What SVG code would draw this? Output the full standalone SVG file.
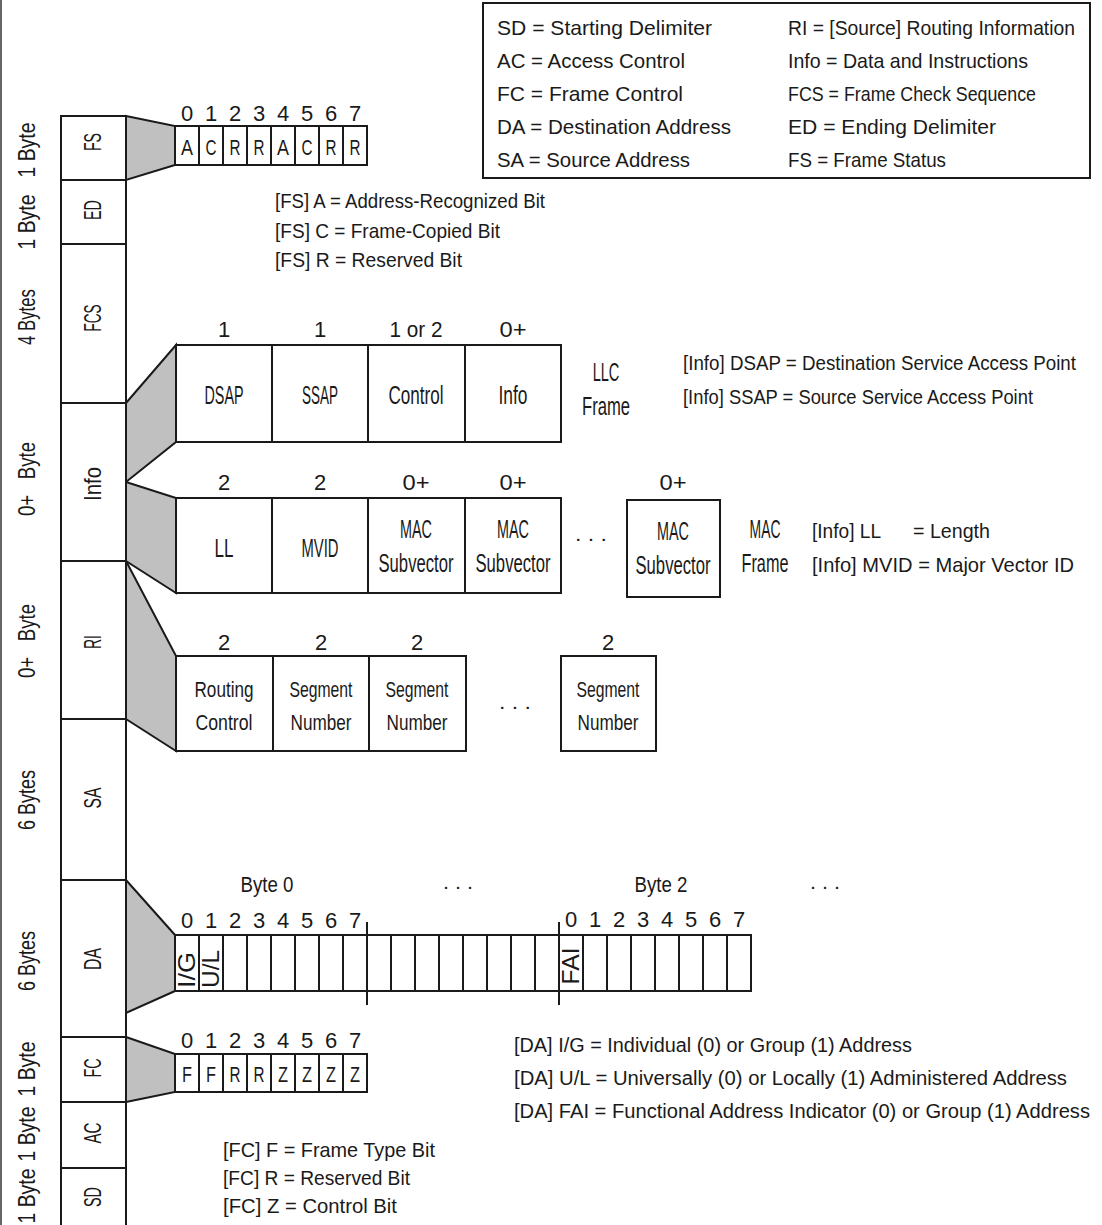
<svg xmlns="http://www.w3.org/2000/svg" width="1102" height="1225" viewBox="0 0 1102 1225">
<style>
text{font-family:"Liberation Sans",Arial,sans-serif;fill:#1a1a1a;font-size:21px}
.m{text-anchor:middle}
.n{font-size:20px}
.d{font-size:22px;text-anchor:middle}
.b{font-size:26px;text-anchor:middle}
.r{font-size:22px;text-anchor:middle}
.c{font-size:24px;text-anchor:middle}
.s{font-size:23px;text-anchor:middle}
.ln{fill:none;stroke:#1a1a1a;stroke-width:2}
.box{fill:#fff;stroke:#1a1a1a;stroke-width:2}
.tr{fill:#c0c0c0;stroke:#1a1a1a;stroke-width:2;stroke-linejoin:miter}
</style>
<rect width="1102" height="1225" fill="#fff"/>
<line x1="1" y1="0" x2="1" y2="1225" stroke="#666" stroke-width="2"/>

<g id="connectors">
<polygon class="tr" points="126,116 175,126 175,165 126,180"/>
<polygon class="tr" points="126,403 176,345 176,442 126,482"/>
<polygon class="tr" points="126,482 176,498 176,593 126,561"/>
<polygon class="tr" points="126,561 176,656 176,751 126,719"/>
<polygon class="tr" points="126,880 175,935 175,991 126,1013"/>
<polygon class="tr" points="126,1037 175,1054 175,1092 126,1102"/>
</g>

<g id="frame-column">
<rect class="box" x="61" y="116" width="65" height="1120"/>
<path class="ln" d="M61 180H126M61 244H126M61 403H126M61 561H126M61 719H126M61 880H126M61 1037H126M61 1102H126M61 1168H126"/>
<text class="c" transform="translate(101,142) rotate(-90)" textLength="18" lengthAdjust="spacingAndGlyphs">FS</text>
<text class="c" transform="translate(101,210) rotate(-90)" textLength="20" lengthAdjust="spacingAndGlyphs">ED</text>
<text class="c" transform="translate(101,318) rotate(-90)" textLength="27" lengthAdjust="spacingAndGlyphs">FCS</text>
<text class="c" transform="translate(101,484) rotate(-90)" textLength="34" lengthAdjust="spacingAndGlyphs">Info</text>
<text class="c" transform="translate(101,642) rotate(-90)" textLength="14" lengthAdjust="spacingAndGlyphs">RI</text>
<text class="c" transform="translate(101,798) rotate(-90)" textLength="21" lengthAdjust="spacingAndGlyphs">SA</text>
<text class="c" transform="translate(101,959) rotate(-90)" textLength="22" lengthAdjust="spacingAndGlyphs">DA</text>
<text class="c" transform="translate(101,1068) rotate(-90)" textLength="19" lengthAdjust="spacingAndGlyphs">FC</text>
<text class="c" transform="translate(101,1133) rotate(-90)" textLength="21" lengthAdjust="spacingAndGlyphs">AC</text>
<text class="c" transform="translate(101,1197) rotate(-90)" textLength="20" lengthAdjust="spacingAndGlyphs">SD</text>
</g>

<g id="size-labels">
<text class="s" transform="translate(35,150) rotate(-90)" textLength="55" lengthAdjust="spacingAndGlyphs">1 Byte</text>
<text class="s" transform="translate(35,222) rotate(-90)" textLength="55" lengthAdjust="spacingAndGlyphs">1 Byte</text>
<text class="s" transform="translate(35,317) rotate(-90)" textLength="56" lengthAdjust="spacingAndGlyphs">4 Bytes</text>
<text class="s" transform="translate(35,479) rotate(-90)" textLength="74" lengthAdjust="spacingAndGlyphs" xml:space="preserve">0+   Byte</text>
<text class="s" transform="translate(35,641) rotate(-90)" textLength="74" lengthAdjust="spacingAndGlyphs" xml:space="preserve">0+   Byte</text>
<text class="s" transform="translate(35,800) rotate(-90)" textLength="60" lengthAdjust="spacingAndGlyphs">6 Bytes</text>
<text class="s" transform="translate(35,961) rotate(-90)" textLength="60" lengthAdjust="spacingAndGlyphs">6 Bytes</text>
<text class="s" transform="translate(35,1069) rotate(-90)" textLength="55" lengthAdjust="spacingAndGlyphs">1 Byte</text>
<text class="s" transform="translate(35,1134) rotate(-90)" textLength="55" lengthAdjust="spacingAndGlyphs">1 Byte</text>
<text class="s" transform="translate(35,1196) rotate(-90)" textLength="55" lengthAdjust="spacingAndGlyphs">1 Byte</text>
</g>

<g id="legend">
<rect x="483" y="3" width="607" height="175" fill="#fff" stroke="#1a1a1a" stroke-width="2"/>
<text x="497" y="35" textLength="215" lengthAdjust="spacingAndGlyphs">SD = Starting Delimiter</text>
<text x="497" y="68" textLength="188" lengthAdjust="spacingAndGlyphs">AC = Access Control</text>
<text x="497" y="101" textLength="186" lengthAdjust="spacingAndGlyphs">FC = Frame Control</text>
<text x="497" y="134" textLength="234" lengthAdjust="spacingAndGlyphs">DA = Destination Address</text>
<text x="497" y="167" textLength="193" lengthAdjust="spacingAndGlyphs">SA = Source Address</text>
<text x="788" y="35" textLength="287" lengthAdjust="spacingAndGlyphs">RI = [Source] Routing Information</text>
<text x="788" y="68" textLength="240" lengthAdjust="spacingAndGlyphs">Info = Data and Instructions</text>
<text x="788" y="101" textLength="248" lengthAdjust="spacingAndGlyphs">FCS = Frame Check Sequence</text>
<text x="788" y="134" textLength="208" lengthAdjust="spacingAndGlyphs">ED = Ending Delimiter</text>
<text x="788" y="167" textLength="158" lengthAdjust="spacingAndGlyphs">FS = Frame Status</text>
</g>

<g id="fs-bits">
<rect class="box" x="175" y="126" width="192" height="39"/>
<path class="ln" d="M199 126V165M223 126V165M247 126V165M271 126V165M295 126V165M319 126V165M343 126V165"/>
<text class="d" x="187" y="121">0</text><text class="d" x="211" y="121">1</text><text class="d" x="235" y="121">2</text><text class="d" x="259" y="121">3</text><text class="d" x="283" y="121">4</text><text class="d" x="307" y="121">5</text><text class="d" x="331" y="121">6</text><text class="d" x="355" y="121">7</text>
<text class="d" x="187" y="155" textLength="12" lengthAdjust="spacingAndGlyphs">A</text><text class="d" x="211" y="155" textLength="11" lengthAdjust="spacingAndGlyphs">C</text><text class="d" x="235" y="155" textLength="11" lengthAdjust="spacingAndGlyphs">R</text><text class="d" x="259" y="155" textLength="11" lengthAdjust="spacingAndGlyphs">R</text><text class="d" x="283" y="155" textLength="12" lengthAdjust="spacingAndGlyphs">A</text><text class="d" x="307" y="155" textLength="11" lengthAdjust="spacingAndGlyphs">C</text><text class="d" x="331" y="155" textLength="11" lengthAdjust="spacingAndGlyphs">R</text><text class="d" x="355" y="155" textLength="11" lengthAdjust="spacingAndGlyphs">R</text>
</g>
<g id="fs-notes">
<text x="275" y="208" textLength="270" lengthAdjust="spacingAndGlyphs">[FS] A = Address-Recognized Bit</text>
<text x="275" y="238" textLength="225" lengthAdjust="spacingAndGlyphs">[FS] C = Frame-Copied Bit</text>
<text x="275" y="267" textLength="187" lengthAdjust="spacingAndGlyphs">[FS] R = Reserved Bit</text>
</g>

<g id="llc-frame">
<rect class="box" x="176" y="345" width="385" height="97"/>
<path class="ln" d="M272 345V442M368 345V442M465 345V442"/>
<text class="d" x="224" y="337">1</text><text class="d" x="320" y="337">1</text>
<text class="d" x="416" y="337" textLength="53" lengthAdjust="spacingAndGlyphs">1 or 2</text>
<text class="d" x="513" y="337" textLength="27" lengthAdjust="spacingAndGlyphs">0+</text>
<text class="b" x="224" y="404" textLength="39" lengthAdjust="spacingAndGlyphs">DSAP</text>
<text class="b" x="320" y="404" textLength="36" lengthAdjust="spacingAndGlyphs">SSAP</text>
<text class="b" x="416" y="404" textLength="55" lengthAdjust="spacingAndGlyphs">Control</text>
<text class="b" x="513" y="404" textLength="29" lengthAdjust="spacingAndGlyphs">Info</text>
<text class="b" transform="translate(606,381) scale(0.56,1)">LLC</text>
<text class="b" transform="translate(606,415) scale(0.64,1)">Frame</text>
<text class="n" x="683" y="370" textLength="393" lengthAdjust="spacingAndGlyphs">[Info] DSAP = Destination Service Access Point</text>
<text class="n" x="683" y="404" textLength="350" lengthAdjust="spacingAndGlyphs">[Info] SSAP = Source Service Access Point</text>
</g>

<g id="mac-frame">
<rect class="box" x="176" y="498" width="385" height="95"/>
<path class="ln" d="M272 498V593M368 498V593M465 498V593"/>
<rect class="box" x="627" y="500" width="93" height="97"/>
<text class="d" x="224" y="490">2</text><text class="d" x="320" y="490">2</text>
<text class="d" x="416" y="490" textLength="27" lengthAdjust="spacingAndGlyphs">0+</text>
<text class="d" x="513" y="490" textLength="27" lengthAdjust="spacingAndGlyphs">0+</text>
<text class="d" x="673" y="490" textLength="27" lengthAdjust="spacingAndGlyphs">0+</text>
<text class="b" x="224" y="557" textLength="19" lengthAdjust="spacingAndGlyphs">LL</text>
<text class="b" x="320" y="557" textLength="37" lengthAdjust="spacingAndGlyphs">MVID</text>
<text class="b" transform="translate(416,538) scale(0.554,1)">MAC</text>
<text class="b" transform="translate(416,572) scale(0.641,1)">Subvector</text>
<text class="b" transform="translate(513,538) scale(0.554,1)">MAC</text>
<text class="b" transform="translate(513,572) scale(0.641,1)">Subvector</text>
<text class="b" transform="translate(673,540) scale(0.554,1)">MAC</text>
<text class="b" transform="translate(673,574) scale(0.641,1)">Subvector</text>
<text class="m" x="591" y="541" textLength="32" lengthAdjust="spacingAndGlyphs">. . .</text>
<text class="b" transform="translate(765,538) scale(0.536,1)">MAC</text>
<text class="b" transform="translate(765,572) scale(0.626,1)">Frame</text>
<text x="812" y="538" textLength="69" lengthAdjust="spacingAndGlyphs">[Info] LL</text>
<text x="913" y="538" textLength="77" lengthAdjust="spacingAndGlyphs">= Length</text>
<text x="812" y="572" textLength="262" lengthAdjust="spacingAndGlyphs">[Info] MVID = Major Vector ID</text>
</g>

<g id="ri-frame">
<rect class="box" x="176" y="656" width="290" height="95"/>
<path class="ln" d="M273 656V751M369 656V751"/>
<rect class="box" x="561" y="656" width="95" height="95"/>
<text class="d" x="224" y="650">2</text><text class="d" x="321" y="650">2</text><text class="d" x="417" y="650">2</text><text class="d" x="608" y="650">2</text>
<text class="r" x="224" y="697" textLength="59" lengthAdjust="spacingAndGlyphs">Routing</text>
<text class="r" x="224" y="730" textLength="57" lengthAdjust="spacingAndGlyphs">Control</text>
<text class="r" x="321" y="697" textLength="63" lengthAdjust="spacingAndGlyphs">Segment</text>
<text class="r" x="321" y="730" textLength="61" lengthAdjust="spacingAndGlyphs">Number</text>
<text class="r" x="417" y="697" textLength="63" lengthAdjust="spacingAndGlyphs">Segment</text>
<text class="r" x="417" y="730" textLength="61" lengthAdjust="spacingAndGlyphs">Number</text>
<text class="r" x="608" y="697" textLength="63" lengthAdjust="spacingAndGlyphs">Segment</text>
<text class="r" x="608" y="730" textLength="61" lengthAdjust="spacingAndGlyphs">Number</text>
<text class="m" x="515" y="709" textLength="32" lengthAdjust="spacingAndGlyphs">. . .</text>
</g>

<g id="da-bits">
<rect class="box" x="175" y="935" width="576" height="56"/>
<path class="ln" d="M199 935V991M223 935V991M247 935V991M271 935V991M295 935V991M319 935V991M343 935V991M391 935V991M415 935V991M439 935V991M463 935V991M487 935V991M511 935V991M535 935V991M583 935V991M607 935V991M631 935V991M655 935V991M679 935V991M703 935V991M727 935V991M367 922V1005M559 922V1005"/>
<text class="d" x="267" y="892" textLength="53" lengthAdjust="spacingAndGlyphs">Byte 0</text>
<text class="m" x="458" y="889" textLength="30" lengthAdjust="spacingAndGlyphs">. . .</text>
<text class="d" x="661" y="892" textLength="53" lengthAdjust="spacingAndGlyphs">Byte 2</text>
<text class="m" x="825" y="889" textLength="30" lengthAdjust="spacingAndGlyphs">. . .</text>
<text class="d" x="187" y="928">0</text><text class="d" x="211" y="928">1</text><text class="d" x="235" y="928">2</text><text class="d" x="259" y="928">3</text><text class="d" x="283" y="928">4</text><text class="d" x="307" y="928">5</text><text class="d" x="331" y="928">6</text><text class="d" x="355" y="928">7</text>
<text class="d" x="571" y="927">0</text><text class="d" x="595" y="927">1</text><text class="d" x="619" y="927">2</text><text class="d" x="643" y="927">3</text><text class="d" x="667" y="927">4</text><text class="d" x="691" y="927">5</text><text class="d" x="715" y="927">6</text><text class="d" x="739" y="927">7</text>
<text class="c" transform="translate(195,970) rotate(-90)" textLength="36" lengthAdjust="spacingAndGlyphs">I/G</text>
<text class="c" transform="translate(219,969) rotate(-90)" textLength="38" lengthAdjust="spacingAndGlyphs">U/L</text>
<text class="c" transform="translate(579,966) rotate(-90)" textLength="37" lengthAdjust="spacingAndGlyphs">FAI</text>
</g>
<g id="da-notes">
<text class="n" x="514" y="1052" textLength="398" lengthAdjust="spacingAndGlyphs">[DA] I/G = Individual (0) or Group (1) Address</text>
<text class="n" x="514" y="1085" textLength="553" lengthAdjust="spacingAndGlyphs">[DA] U/L = Universally (0) or Locally (1) Administered Address</text>
<text class="n" x="514" y="1118" textLength="576" lengthAdjust="spacingAndGlyphs">[DA] FAI = Functional Address Indicator (0) or Group (1) Address</text>
</g>

<g id="fc-bits">
<rect class="box" x="175" y="1054" width="192" height="38"/>
<path class="ln" d="M199 1054V1092M223 1054V1092M247 1054V1092M271 1054V1092M295 1054V1092M319 1054V1092M343 1054V1092"/>
<text class="d" x="187" y="1048">0</text><text class="d" x="211" y="1048">1</text><text class="d" x="235" y="1048">2</text><text class="d" x="259" y="1048">3</text><text class="d" x="283" y="1048">4</text><text class="d" x="307" y="1048">5</text><text class="d" x="331" y="1048">6</text><text class="d" x="355" y="1048">7</text>
<text class="d" x="187" y="1082" textLength="10" lengthAdjust="spacingAndGlyphs">F</text><text class="d" x="211" y="1082" textLength="10" lengthAdjust="spacingAndGlyphs">F</text><text class="d" x="235" y="1082" textLength="11" lengthAdjust="spacingAndGlyphs">R</text><text class="d" x="259" y="1082" textLength="11" lengthAdjust="spacingAndGlyphs">R</text><text class="d" x="283" y="1082" textLength="10" lengthAdjust="spacingAndGlyphs">Z</text><text class="d" x="307" y="1082" textLength="10" lengthAdjust="spacingAndGlyphs">Z</text><text class="d" x="331" y="1082" textLength="10" lengthAdjust="spacingAndGlyphs">Z</text><text class="d" x="355" y="1082" textLength="10" lengthAdjust="spacingAndGlyphs">Z</text>
</g>
<g id="fc-notes">
<text x="223" y="1157" textLength="212" lengthAdjust="spacingAndGlyphs">[FC] F = Frame Type Bit</text>
<text x="223" y="1185" textLength="187" lengthAdjust="spacingAndGlyphs">[FC] R = Reserved Bit</text>
<text x="223" y="1213" textLength="174" lengthAdjust="spacingAndGlyphs">[FC] Z = Control Bit</text>
</g>
</svg>
